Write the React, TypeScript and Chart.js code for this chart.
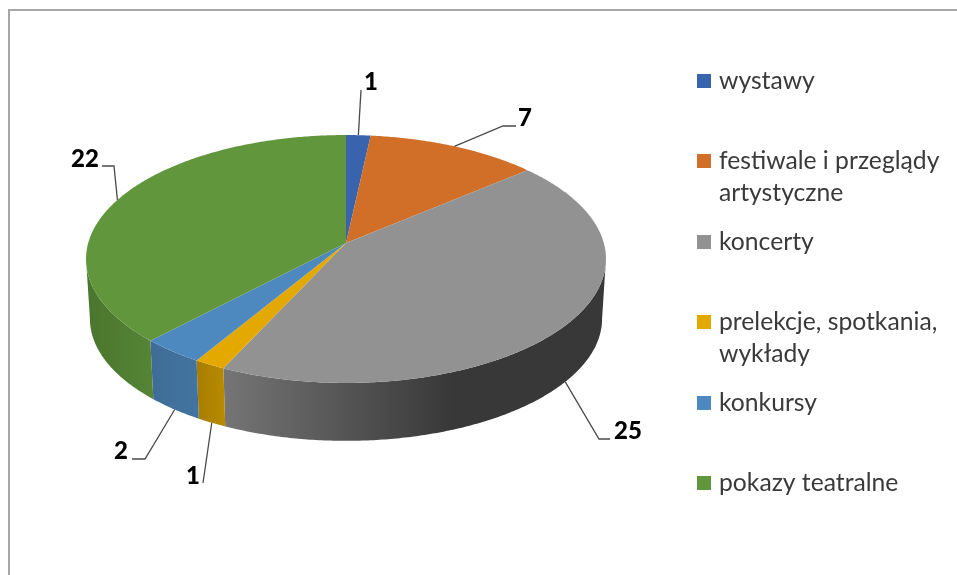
import React, { useEffect, useRef } from "react";
import { Chart, registerables } from "chart.js";

Chart.register(...registerables);

const categories = ["wystawy", "festiwale i przeglądy artystyczne", "koncerty", "prelekcje, spotkania, wykłady", "konkursy", "pokazy teatralne"];
const legendLines = [["wystawy", ""], ["festiwale i przeglądy", "artystyczne"], ["koncerty", ""], ["prelekcje, spotkania,", "wykłady"], ["konkursy", ""], ["pokazy teatralne", ""]];
const values = [1, 7, 25, 1, 2, 22];
const topColors = ["#3A63AD", "#D16E28", "#929292", "#E3A900", "#4D88BE", "#62963D"];
const wallLeft = ["#2c4d88", "#a85820", "#757575", "#a87d00", "#3e6c97", "#4a752d"];
const wallRight = ["#2c4d88", "#a85820", "#383838", "#b88a00", "#42749f", "#558436"];

// Label layout: leader elbow points, and the centre of each number.
const leaderFromWall = [false, false, true, true, true, false];
const leaderPaths = [[[361, 90]], [[503, 126], [516, 126]], [[599, 439], [610, 439]], [[203, 483]], [[145, 459], [132, 459]], [[114, 166], [102, 166]]];
const labelCentres = [[371, 82], [525, 118], [628, 431], [193, 476], [121, 451], [85, 159]];

// Perspective view of the disc
const APEX_X = 346, APEX_Y = 243, RX = 257.8, KY = 121.9, P = 0.129;
const BOTTOM_SHRINK = 0.985, DEPTH = 60;

function project(theta: number, bottom: boolean) {
  const w = 1 - P * Math.sin(theta);
  const s = bottom ? BOTTOM_SHRINK : 1;
  return {
    x: APEX_X + (s * RX * Math.cos(theta)) / w,
    y: APEX_Y + (bottom ? DEPTH : 0) + (s * KY * Math.sin(theta)) / w,
  };
}

function arcPath(ctx: CanvasRenderingContext2D, a: number, b: number, bottom: boolean) {
  const n = Math.max(2, Math.ceil(Math.abs(b - a) / 0.01));
  for (let i = 0; i <= n; i++) {
    const p = project(a + ((b - a) * i) / n, bottom);
    ctx.lineTo(p.x, p.y);
  }
}

const pie3d = {
  id: "pie3d",
  afterLayout(chart: any) {
    chart.legend.left = 701.65 - chart.legend.options.labels.padding;
    chart.legend.top = 52;
  },
  beforeDatasetDraw(chart: any) {
    const ctx: CanvasRenderingContext2D = chart.ctx;
    const arcs = chart.getDatasetMeta(0).data;
    const visStart = Math.asin(P), visEnd = Math.PI - Math.asin(P);
    ctx.save();
    arcs.forEach((arc: any, i: number) => {
      const a = Math.max(arc.startAngle, visStart), b = Math.min(arc.endAngle, visEnd);
      if (b <= a) return;
      const pa = project(a, false), pb = project(b, false);
      const g = ctx.createLinearGradient(Math.min(pa.x, pb.x), 0, Math.max(pa.x, pb.x), 0);
      g.addColorStop(0, wallLeft[i]);
      if (i === 2) g.addColorStop(0.6, wallRight[i]);
      g.addColorStop(1, wallRight[i]);
      ctx.beginPath();
      arcPath(ctx, a, b, false);
      arcPath(ctx, b, a, true);
      ctx.closePath();
      ctx.fillStyle = g;
      ctx.fill();
    });
    arcs.forEach((arc: any, i: number) => {
      ctx.beginPath();
      ctx.moveTo(APEX_X, APEX_Y);
      arcPath(ctx, arc.startAngle, arc.endAngle, false);
      ctx.closePath();
      ctx.fillStyle = topColors[i];
      ctx.fill();
    });
    arcs.forEach((arc: any, i: number) => {
      const mid = (arc.startAngle + arc.endAngle) / 2;
      const s = project(mid, leaderFromWall[i]);
      ctx.beginPath();
      ctx.moveTo(s.x, s.y);
      leaderPaths[i].forEach(([x, y]) => ctx.lineTo(x, y));
      ctx.strokeStyle = "#4a4a4a";
      ctx.lineWidth = 1.3;
      ctx.stroke();
      ctx.fillStyle = "#000";
      ctx.font = "900 24px Lato, sans-serif";
      ctx.textAlign = "center";
      ctx.textBaseline = "middle";
      ctx.fillText(String(values[i]), labelCentres[i][0], labelCentres[i][1]);
    });
    ctx.restore();
    return false;
  },
};

function swatch(color: string) {
  const c = document.createElement("canvas");
  c.width = 14;
  c.height = 14;
  const x = c.getContext("2d")!;
  x.fillStyle = color;
  x.fillRect(0, 0, 14, 14);
  return c;
}

export default function App() {
  const ref = useRef<HTMLCanvasElement>(null);
  useEffect(() => {
    document.body.style.margin = "0";
    document.body.style.background = "#fff";
    const chart = new Chart(ref.current!, {
      type: "pie",
      data: {
        labels: categories,
        datasets: [{ data: values, backgroundColor: topColors, borderWidth: 0 }],
      },
      plugins: [pie3d],
      options: {
        responsive: false,
        animation: false,
        plugins: {
          tooltip: { enabled: false },
          title: { display: false },
          legend: {
            position: "right",
            align: "start",
            labels: {
              usePointStyle: true,
              pointStyleWidth: 5,
              padding: 16.5,
              color: "#3a3a3a",
              font: { family: "Lato", size: 24.7, lineHeight: 32 / 24.7 },
              generateLabels: () =>
                legendLines.map((text, i) => ({
                  text,
                  fillStyle: topColors[i],
                  strokeStyle: topColors[i],
                  lineWidth: 0,
                  pointStyle: swatch(topColors[i]),
                  fontColor: "#3a3a3a",
                  hidden: false,
                  index: i,
                })),
            },
          },
        },
      },
    } as any);
    return () => chart.destroy();
  }, []);
  return (
    <div style={{ position: "relative", width: 957, height: 575, overflow: "hidden" }}>
      <canvas ref={ref} width={957} height={575} style={{ position: "absolute", left: 0, top: 0 }} />
      <div style={{ position: "absolute", left: 8, top: 9, width: 1000, height: 700, borderTop: "2px solid #a6a6a6", borderLeft: "2px solid #a6a6a6", pointerEvents: "none" }} />
    </div>
  );
}
